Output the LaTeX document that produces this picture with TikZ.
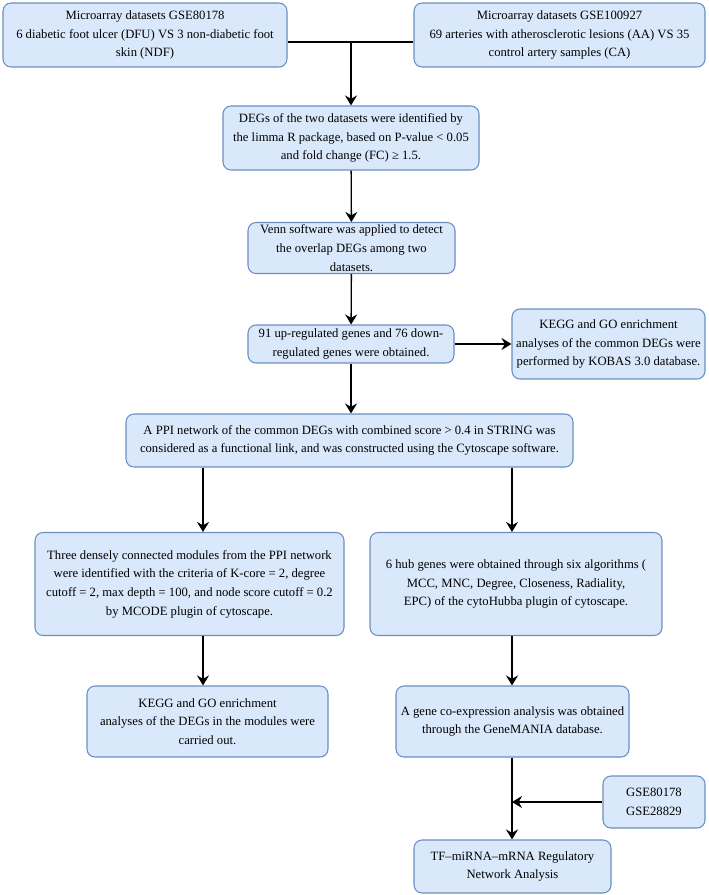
\documentclass[tikz,border=0pt]{standalone}
\usepackage{fontspec}
\setmainfont{Liberation Serif}
\usetikzlibrary{arrows.meta}

\definecolor{boxfill}{RGB}{218,232,252}
\definecolor{boxline}{RGB}{108,142,191}

\tikzset{every picture/.style={line width=0.75pt}}
\tikzset{
  blockbox/.style={draw=boxline, fill=boxfill, rounded corners=6pt, line width=0.8pt,
    align=center, inner sep=0pt, font=\fontsize{9.5}{14}\selectfont},
  flowline/.style={line width=1pt, draw=black},
  flowarrow/.style={flowline, -{Stealth[length=7.5pt, width=9pt, inset=2.5pt]}}
}

\begin{document}
\begin{tikzpicture}[x=0.75pt,y=0.75pt,yscale=-1,xscale=1]
%set diagram to 708 x 895
\useasboundingbox (0,0) rectangle (708,895);

%Shape: Rectangle [datasets]
\node [blockbox, minimum width=213pt, minimum height=48pt] (dsA) at (145,35)
  {Microarray datasets GSE80178\\6 diabetic foot ulcer (DFU) VS 3 non-diabetic foot\\skin (NDF)};
\node [blockbox, minimum width=218.25pt, minimum height=48pt] (dsB) at (559.5,35)
  {Microarray datasets GSE100927\\69 arteries with atherosclerotic lesions (AA) VS 35\\control artery samples (CA)};
%Shape: Rectangle [DEGs]
\node [blockbox, minimum width=192pt, minimum height=48pt] (degs) at (351,138)
  {DEGs of the two datasets were identified by\\the limma R package, based on P-value < 0.05\\and fold change (FC) ≥ 1.5.};
%Shape: Rectangle [Venn]
\node [blockbox, minimum width=155.25pt, minimum height=38.25pt] (venn) at (351.5,248)
  {Venn software was applied to detect\\the overlap DEGs among two\\datasets.};
%Shape: Rectangle [up/down]
\node [blockbox, minimum width=154.5pt, minimum height=28.5pt] (updown) at (351,344)
  {91 up-regulated genes and 76 down-\\regulated genes were obtained.};
\node [blockbox, minimum width=144.75pt, minimum height=52.5pt] (keggA) at (608.5,344)
  {KEGG and GO enrichment\\analyses of the common DEGs were\\performed by KOBAS 3.0 database.};
%Shape: Rectangle [PPI]
\node [blockbox, minimum width=335.25pt, minimum height=39.75pt] (ppi) at (349.5,440.5)
  {A PPI network of the common DEGs with combined score > 0.4 in STRING was\\considered as a functional link, and was constructed using the Cytoscape software.};
%Shape: Rectangle [MCODE]
\node [blockbox, minimum width=231.75pt, minimum height=77.25pt] (mcode) at (189.5,584)
  {Three densely connected modules from the PPI network\\were identified with the criteria of K-core = 2, degree\\cutoff = 2, max depth = 100, and node score cutoff = 0.2\\by MCODE plugin of cytoscape.};
%Shape: Rectangle [hub genes]
\node [blockbox, minimum width=219pt, minimum height=77.25pt] (hub) at (516,584)
  {6 hub genes were obtained through six algorithms (\\MCC, MNC, Degree, Closeness, Radiality,\\EPC) of the cytoHubba plugin of cytoscape.};
%Shape: Rectangle [lower row]
\node [blockbox, minimum width=180.75pt, minimum height=53.25pt] (keggB) at (207.5,721.5)
  {KEGG and GO enrichment\\analyses of the DEGs in the modules were\\carried out.};
\node [blockbox, minimum width=174.75pt, minimum height=53.25pt] (gmania) at (512.5,721.5)
  {A gene co-expression analysis was obtained\\through the GeneMANIA database.};
\node [blockbox, minimum width=76.5pt, minimum height=39pt] (gse) at (654,802)
  {GSE80178\\GSE28829};
\node [blockbox, minimum width=147.75pt, minimum height=39.75pt] (tf) at (512.5,866.5)
  {TF--miRNA--mRNA Regulatory\\Network Analysis};

% taps for the connectors
\coordinate (join) at (351,42);
\coordinate (ltap) at (203,500);
\coordinate (rtap) at (512,500);
\coordinate (gsetap) at (512,802);

%Straight Lines
\draw [flowline] (dsA.east |- join) -- (dsB.west |- join);
\draw [flowarrow] (join) -- (degs.north);
\draw [flowarrow] (degs) -- (venn);
\draw [flowarrow] (venn) -- (updown);
\draw [flowarrow] (updown.east) -- (keggA.west |- updown.east);
\draw [flowarrow] (updown.south) -- (updown.south |- ppi.north);
\draw [flowarrow] (ltap |- ppi.south) -- (ltap |- mcode.north);
\draw [flowarrow] (rtap |- ppi.south) -- (rtap |- hub.north);
\draw [flowarrow] (ltap |- mcode.south) -- (ltap |- keggB.north);
\draw [flowarrow] (rtap |- hub.south) -- (rtap |- gmania.north);
\draw [flowarrow] (rtap |- gmania.south) -- (rtap |- tf.north);
\draw [flowarrow] (gse.west) -- (gsetap);

\end{tikzpicture}
\end{document}
